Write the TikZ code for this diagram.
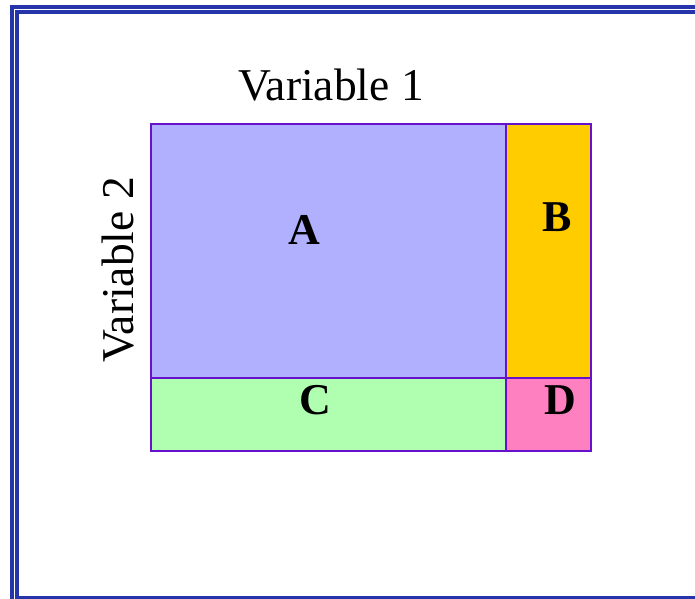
\documentclass[tikz,border=0pt]{standalone}
\usepackage{fontspec}
\setmainfont{Liberation Serif}
\definecolor{frameblue}{RGB}{38,52,170}
\definecolor{cellline}{RGB}{102,17,204}
\definecolor{cellA}{RGB}{176,176,255}
\definecolor{cellB}{RGB}{255,204,0}
\definecolor{cellC}{RGB}{176,255,176}
\definecolor{cellD}{RGB}{255,128,192}
\begin{document}
\begin{tikzpicture}[x=1pt,y=-1pt,
  cell/.style={draw=cellline,line width=1.8pt,inner sep=0pt,outer sep=0pt,anchor=north west},
  axislabel/.style={font=\fontsize{45.5}{50}\selectfont,inner sep=0pt,anchor=base},
  celllabel/.style={font=\fontsize{44}{48}\selectfont\bfseries,inner sep=0pt},
  frameline/.style={draw=frameblue,line width=4pt}]
\useasboundingbox (0,0) rectangle (695,598);
\begin{scope}
\clip (0,0) rectangle (695,598);
\draw[frameline] (12,7) rectangle (760,660);
\draw[frameline] (17,12) rectangle (760,598);
\end{scope}
\node[cell,fill=cellA,minimum width=355pt,minimum height=254pt] (A) at (151,124) {};
\node[cell,fill=cellB,minimum width=85pt,minimum height=254pt] (B) at (506,124) {};
\node[cell,fill=cellC,minimum width=355pt,minimum height=73pt] (C) at (151,378) {};
\node[cell,fill=cellD,minimum width=85pt,minimum height=73pt] (D) at (506,378) {};
\node[celllabel] (la) at (304,230) {A};
\node[celllabel] (lb) at (557,217) {B};
\node[celllabel] (lc) at (315,400) {C};
\node[celllabel] (ld) at (560,400) {D};
\node[axislabel] (v1) at (331,100) {Variable 1};
\node[axislabel,rotate=90] (v2) at (133,270) {Variable 2};
\end{tikzpicture}
\end{document}
